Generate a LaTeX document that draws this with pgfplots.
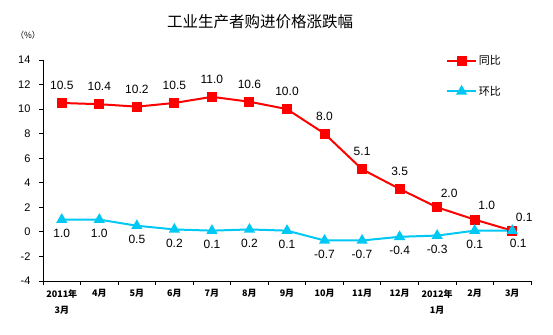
\documentclass[border=0pt]{standalone}
\usepackage{fontspec}
\setmainfont{Liberation Sans}
\newfontfamily\cjk{Noto Sans CJK SC}
\usepackage{pgfplots}
\pgfplotsset{compat=1.18}
\definecolor{cred}{RGB}{255,0,0}
\definecolor{cblue}{RGB}{0,200,245}
\begin{document}
\begin{tikzpicture}[x=1pt,y=1pt]
\useasboundingbox (0,0) rectangle (553,334);
\node[font=\cjk\fontsize{15.5}{18}\selectfont] at (260,312) {工业生产者购进价格涨跌幅};
\node[font=\cjk\fontsize{8.5}{10}\selectfont] at (28,299) {（\%）};
\begin{axis}[at={(43pt,53pt)}, anchor=south west, scale only axis,
 width=488pt, height=221pt,
 xmin=-0.5, xmax=12.5, ymin=-4, ymax=14, ytick={-4,-2,...,14},
 /pgf/number format/assume math mode=true,
 axis lines=left, axis line style={-, line width=0.8pt, black},
 xtick={0,...,12},
 xticklabels={2011年\\3月,4月,5月,6月,7月,8月,9月,10月,11月,12月,2012年\\1月,2月,3月},
 major x tick style={draw=none},
 minor xtick={-0.5,0.5,...,12.5},
 minor x tick style={line width=0.8pt, black},
 y tick style={line width=0.8pt, black},
 tick align=outside, major tick length=4pt, minor tick length=4pt,
 xticklabel style={font=\cjk\bfseries\fontsize{9}{16}\selectfont, align=center, yshift=-1pt},
 yticklabel style={font=\fontsize{11}{13}\selectfont, xshift=-5pt},
 legend style={at={(0.82,1.04)}, anchor=north west, draw=none, fill=none,
   font=\cjk\fontsize{11}{13}\selectfont, row sep=16pt},
 legend cell align=left,
 legend image code/.code={\draw[mark repeat=2,mark phase=2,#1] plot coordinates {(0cm,0cm)(0.5cm,0cm)(1cm,0cm)};},
 clip=false,
]
\addplot[cred, line width=2pt, mark=square*, mark size=4pt] table {
x y
0 10.5
1 10.4
2 10.2
3 10.5
4 11.0
5 10.6
6 10.0
7 8.0
8 5.1
9 3.5
10 2.0
11 1.0
12 0.1
};
\addlegendentry{同比}
\addplot[cblue, line width=2pt, mark=triangle*, mark size=4.5pt] table {
x y
0 1.0
1 1.0
2 0.5
3 0.2
4 0.1
5 0.2
6 0.1
7 -0.7
8 -0.7
9 -0.4
10 -0.3
11 0.1
12 0.1
};
\addlegendentry{环比}
% red labels
\addplot[draw=none, forget plot, nodes near coords, point meta=explicit symbolic,
  nodes near coords style={text=black, anchor=south, yshift=10pt, font=\fontsize{12}{14}\selectfont}]
  table[meta=l] {
x y l
0 10.5 10.5
1 10.4 10.4
2 10.2 10.2
3 10.5 10.5
4 11.0 11.0
5 10.6 10.6
6 10.0 10.0
7 8.0 8.0
8 5.1 5.1
9 3.5 3.5
};
\addplot[draw=none, forget plot, nodes near coords, point meta=explicit symbolic,
  nodes near coords style={text=black, anchor=south, yshift=6pt, xshift=12pt, font=\fontsize{12}{14}\selectfont}]
  table[meta=l] {
x y l
10 2.0 2.0
11 1.0 1.0
12 0.1 0.1
};
% blue labels
\addplot[draw=none, forget plot, nodes near coords, point meta=explicit symbolic,
  nodes near coords style={text=black, anchor=north, yshift=-6pt, font=\fontsize{12}{14}\selectfont}]
  table[meta=l] {
x y l
0 1.0 1.0
1 1.0 1.0
2 0.5 0.5
3 0.2 0.2
4 0.1 0.1
5 0.2 0.2
6 0.1 0.1
7 -0.7 -0.7
8 -0.7 -0.7
9 -0.4 -0.4
10 -0.3 -0.3
11 0.1 0.1
};
\addplot[draw=none, forget plot, nodes near coords, point meta=explicit symbolic,
  nodes near coords style={text=black, anchor=north, yshift=-5pt, xshift=6pt, font=\fontsize{12}{14}\selectfont}]
  table[meta=l] {
x y l
12 0.1 0.1
};
\end{axis}
\end{tikzpicture}
\end{document}
